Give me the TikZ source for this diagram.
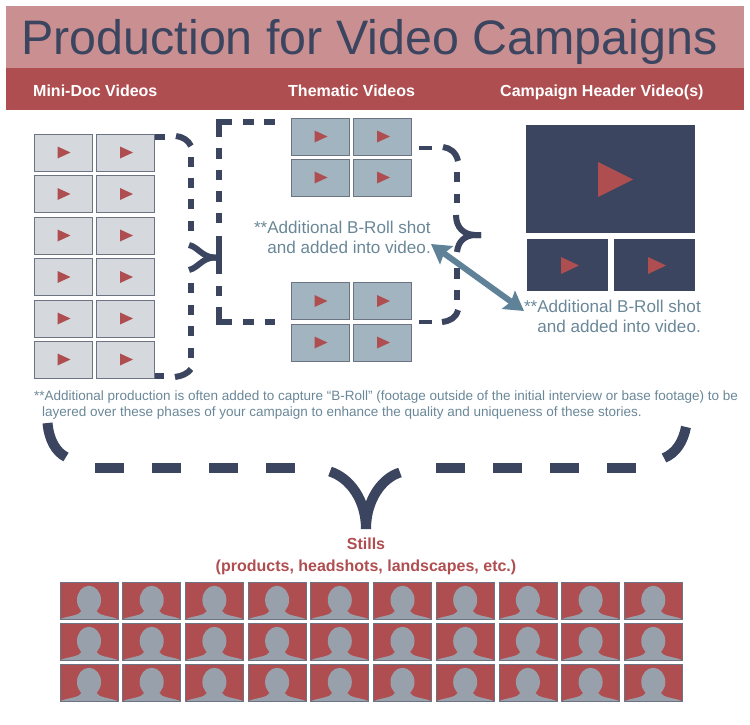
\documentclass[tikz,border=0pt]{standalone}
\usepackage{fontspec}
\setmainfont{Liberation Sans}
\usepackage{tikz}
\usetikzlibrary{calc}
\usetikzlibrary{arrows.meta}
\definecolor{navy}{HTML}{3B4560}
\definecolor{rosy}{HTML}{CA8F90}
\definecolor{brick}{HTML}{AF4E50}
\definecolor{slate}{HTML}{6A8798}
\definecolor{steel}{HTML}{5F8298}
\definecolor{paleframe}{HTML}{D5D8DC}
\definecolor{bluefill}{HTML}{A2B4C0}
\definecolor{edgegrey}{HTML}{6C7484}
\definecolor{headgrey}{HTML}{98A1AB}
\tikzset{
	% Thumbnail styles: one for each group of videos, and the stills
	mini node/.style={rectangle,draw=edgegrey,line width=0.8,fill=paleframe,minimum width=58,minimum height=37,inner sep=0},
	theme node/.style={rectangle,draw=edgegrey,line width=0.8,fill=bluefill,minimum width=58,minimum height=37,inner sep=0},
	header node/.style={rectangle,fill=navy,inner sep=0},
	still node/.style={rectangle,draw=edgegrey,line width=0.8,fill=brick,minimum width=58,minimum height=37,inner sep=0},
	% Text styles
	column label/.style={font=\fontsize{16}{18}\selectfont\bfseries,text=white,inner sep=0},
	note label/.style={font=\fontsize{17.1}{20.5}\selectfont,text=slate,inner sep=0,align=right},
	% Bracket styles: thin for the video groups, thick for the stills
	thin bracket/.style={draw=navy,line width=6},
	thick bracket/.style={draw=navy,line width=10}
}

\begin{document}
\begin{tikzpicture}[x=1pt,y=-1pt]
	% macros for thumbnails with a play triangle and for stills with a silhouette
	\newcommand{\videothumb}[4]{
		\node(#2)[#1]at(#3,#4){};
		\fill[brick]($(#2.center)+(-5.5,-6)$) -- ($(#2.center)+(7.5,0)$) -- ($(#2.center)+(-5.5,6)$) -- cycle;
	}
	\newcommand{\stillthumb}[3]{
		\node(#1)[still node]at(#2,#3){};
		\fill[headgrey]($(#1.center)+(0,-0.5)$) ellipse (12 and 14.2);
		\fill[headgrey]($(#1.center)+(-28,18.3)$) .. controls ($(#1.center)+(-20,15)$) and ($(#1.center)+(-10,15.5)$) .. ($(#1.center)+(-7,10)$) -- ($(#1.center)+(7,10)$) .. controls ($(#1.center)+(10,15.5)$) and ($(#1.center)+(20,15)$) .. ($(#1.center)+(28,18.3)$) -- cycle;
	}
	\useasboundingbox (0,0) rectangle (750,725);

	% Title bands
	\node(title band)[rectangle,fill=rosy,minimum width=738,minimum height=62,inner sep=0,anchor=north west]at(6,6){};
	\node(label band)[rectangle,fill=brick,minimum width=738,minimum height=42,inner sep=0,anchor=north west]at(6,68){};
	\node(title)[font=\fontsize{48.4}{54}\selectfont,text=navy,inner sep=0,anchor=base]at(369.5,54.5){Production for Video Campaigns};
	\node(mini label)[column label,anchor=base west]at(33,96){Mini-Doc Videos};
	\node(theme label)[column label,anchor=base west]at(288,96){Thematic Videos};
	\node(header label)[column label,anchor=base west]at(500,96){Campaign Header Video(s)};

	% Mini-doc videos
	\foreach \row/\y in {1/152.5,2/194,3/235.5,4/277,5/318.5,6/359.5}{
		\videothumb{mini node}{mini-\row-1}{63}{\y}
		\videothumb{mini node}{mini-\row-2}{125.5}{\y}
	}

	% Thematic videos
	\foreach \row/\y in {1/136.5,2/177.5,3/301,4/342.5}{
		\videothumb{theme node}{theme-\row-1}{320}{\y}
		\videothumb{theme node}{theme-\row-2}{382.5}{\y}
	}

	% Campaign header videos
	\node(header big)[header node,minimum width=169,minimum height=108]at(610.5,179){};
	\node(header left)[header node,minimum width=81,minimum height=52]at(567.5,265){};
	\node(header right)[header node,minimum width=81,minimum height=52]at(654.5,265){};
	\fill[brick](598,162) -- (633,179.5) -- (598,197) -- cycle;
	\fill[brick](561,257) -- (579,265.5) -- (561,274) -- cycle;
	\fill[brick](648,257) -- (666,265.5) -- (648,274) -- cycle;

	% Bracket around the mini-doc videos
	\draw[thin bracket](155,136.5) -- (165,136.5);
	\draw[thin bracket](176,136) .. controls (183,137) and (188,140) .. (191,146);
	\draw[thin bracket,dash pattern=on 10 off 11.2](191,157) -- (191,231);
	\draw[thin bracket](189,245) .. controls (198,247) and (202,257) .. (214,257.5) -- (218,257.5);
	\draw[thin bracket](189,270) .. controls (198,268) and (202,258) .. (214,257.5) -- (218,257.5);
	\draw[thin bracket,dash pattern=on 10 off 11.7](191,283) -- (191,359);
	\draw[thin bracket](191,369) .. controls (187,374) and (182,376) .. (175,377);
	\draw[thin bracket](155,376) -- (164,376);

	% Bracket around the thematic videos
	\draw[thin bracket,miter limit=10](218.5,137) -- (218.5,121.5) -- (232,121.5);
	\draw[thin bracket,dash pattern=on 10.5 off 10.8](243,122) -- (275,122);
	\draw[thin bracket,dash pattern=on 10.5 off 11](218.5,148) -- (218.5,224);
	\draw[thin bracket](218.5,236) -- (218.5,274);
	\draw[thin bracket](218.5,286) -- (218.5,296);
	\draw[thin bracket,miter limit=10](218.5,307) -- (218.5,322) -- (232,322);
	\draw[thin bracket,dash pattern=on 10.5 off 11](243,322) -- (275,322);

	% Brace on the right of the thematic videos
	\draw[thin bracket,line width=4.5](419,148) -- (432,148);
	\draw[thin bracket](443,147) .. controls (450,148) and (456,152) .. (458,161);
	\draw[thin bracket,dash pattern=on 9.5 off 12](457,172) -- (457,204);
	\draw[thin bracket](456,215) .. controls (456,228) and (464,234.5) .. (475,235) -- (481,235);
	\draw[thin bracket](457,252) .. controls (458,242) and (464,235.5) .. (475,235) -- (481,235);
	\draw[thin bracket](457,268) -- (457,279);
	\draw[thin bracket](457,290) -- (457,300);
	\draw[thin bracket](458,310) .. controls (456,318) and (450,321) .. (442,322);
	\draw[thin bracket,line width=4.5](419,322) -- (432,322);

	% Notes and the arrow between them
	\node(theme note)[note label,anchor=north east]at(431,220.5){**Additional B-Roll shot\\and added into video.};
	\node(header note)[note label,anchor=north east]at(701,299.5){**Additional B-Roll shot\\and added into video.};
	\coordinate(arrow start)at(431,244);
	\coordinate(arrow end)at(524,311);
	\draw[steel,line width=6,{Stealth[length=19,width=22,inset=3]}-{Stealth[length=19,width=22,inset=3]}](arrow start) -- (arrow end);
	\node(long note)[font=\fontsize{13.5}{16}\selectfont,text=slate,inner sep=0,align=left,anchor=north west]at(34,390.5){**Additional production is often added to capture “B-Roll” (footage outside of the initial interview or base footage) to be\\\hspace*{8pt}layered over these phases of your campaign to enhance the quality and uniqueness of these stories.};

	% Bracket above the stills
	\draw[thick bracket](47.5,423) .. controls (49,440) and (56,452) .. (66,457);
	\draw[thick bracket,dash pattern=on 28.5 off 28.5](95,467.5) -- (296,467.5);
	\draw[thick bracket](330,471.5) .. controls (350,478) and (366,500) .. (366,529);
	\draw[thick bracket](400,472.5) .. controls (382,478) and (366,500) .. (366,529);
	\draw[thick bracket,dash pattern=on 28.5 off 28.5](436,467.5) -- (637,467.5);
	\draw[thick bracket](686,427) .. controls (683,442) and (676,453) .. (664,458);

	% Stills
	\node(stills label)[font=\fontsize{16}{22}\selectfont\bfseries,text=brick,inner sep=0,align=center,anchor=north]at(366,538){Stills\\(products, headshots, landscapes, etc.)};
	\foreach \row/\y in {1/600.5,2/641.5,3/682.5}{
		\foreach \col in {0,...,9}{
			\stillthumb{still-\row-\col}{89+62.7*\col}{\y}
		}
	}
\end{tikzpicture}
\end{document}
